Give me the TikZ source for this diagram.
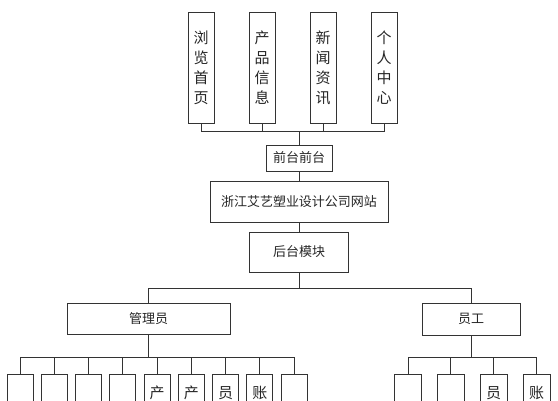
\documentclass[tikz,border=0pt]{standalone}
\usepackage{fontspec}
\setmainfont{Noto Sans CJK SC}
\newfontfamily\cjk{Noto Sans CJK SC}
\begin{document}
\begin{tikzpicture}[x=1pt,y=-1pt,
  box/.style={draw=black!80,line width=0.8pt,inner sep=0pt,fill=white},
  vbox/.style={box,minimum width=26pt,minimum height=111pt,font=\fontsize{15}{20}\selectfont,align=center,text=black!85},
  hbox/.style={box,font=\fontsize{13}{15}\selectfont,text=black!85},
  cbox/.style={box,minimum width=26pt,minimum height=50pt,anchor=north},
  ctext/.style={font=\fontsize{15}{20}\selectfont,text=black!85,inner sep=0pt},
  conn/.style={draw=black!80,line width=0.8pt}]
\useasboundingbox (0,0) rectangle (558,400);
\clip (0,0) rectangle (558,400);
\fill[white] (0,0) rectangle (558,400);
% top boxes
\node[vbox] (t1) at (201,67.5) {浏\\览\\首\\页};
\node[vbox] (t2) at (262,67.5) {产\\品\\信\\息};
\node[vbox] (t3) at (323,67.5) {新\\闻\\资\\讯};
\node[vbox] (t4) at (384,67.5) {个\\人\\中\\心};
% middle chain
\node[hbox,minimum width=66pt,minimum height=26pt] (front) at (299,158) {前台前台};
\node[hbox,minimum width=178pt,minimum height=41pt] (main) at (299,201.5) {浙江艾艺塑业设计公司网站};
\node[hbox,minimum width=99pt,minimum height=40pt] (back) at (299,252) {后台模块};
\node[hbox,minimum width=163pt,minimum height=31pt] (admin) at (148.5,318.5) {管理员};
\node[hbox,minimum width=98pt,minimum height=32pt] (staff) at (471,319) {员工};
% connectors top
\foreach \n in {t1,t2,t3,t4}
  \draw[conn] (\n.south) -- ++(0,8) -| (front.north);
\draw[conn] (front.south) -- (main.north);
\draw[conn] (main.south) -- (back.north);
\draw[conn] (back.south) -- ++(0,16) -| (admin.north);
\draw[conn] (back.south) -- ++(0,16) -| (staff.north);
% admin children
\foreach \i in {0,...,8}{
  \node[cbox] (a\i) at ({20+34.25*\i},374) {};
  \draw[conn] (admin.south) -- ++(0,23) -| (a\i.north);
}
\node[ctext] (a4t) at ([yshift=-19pt]a4.north) {产};
\node[ctext] (a5t) at ([yshift=-19pt]a5.north) {产};
\node[ctext] (a6t) at ([yshift=-19pt]a6.north) {员};
\node[ctext] (a7t) at ([yshift=-19pt]a7.north) {账};
% staff children
\node[cbox,minimum width=27pt] (s0) at (408,374) {};
\node[cbox,minimum width=27pt] (s1) at (450.5,374) {};
\node[cbox,minimum width=27pt] (s2) at (493.5,374) {};
\node[cbox,minimum width=27pt] (s3) at (536.5,374) {};
\foreach \i in {0,...,3}
  \draw[conn] (staff.south) -- ++(0,22) -| (s\i.north);
\node[ctext] (s2t) at ([yshift=-19pt]s2.north) {员};
\node[ctext] (s3t) at ([yshift=-19pt]s3.north) {账};
\end{tikzpicture}
\end{document}
